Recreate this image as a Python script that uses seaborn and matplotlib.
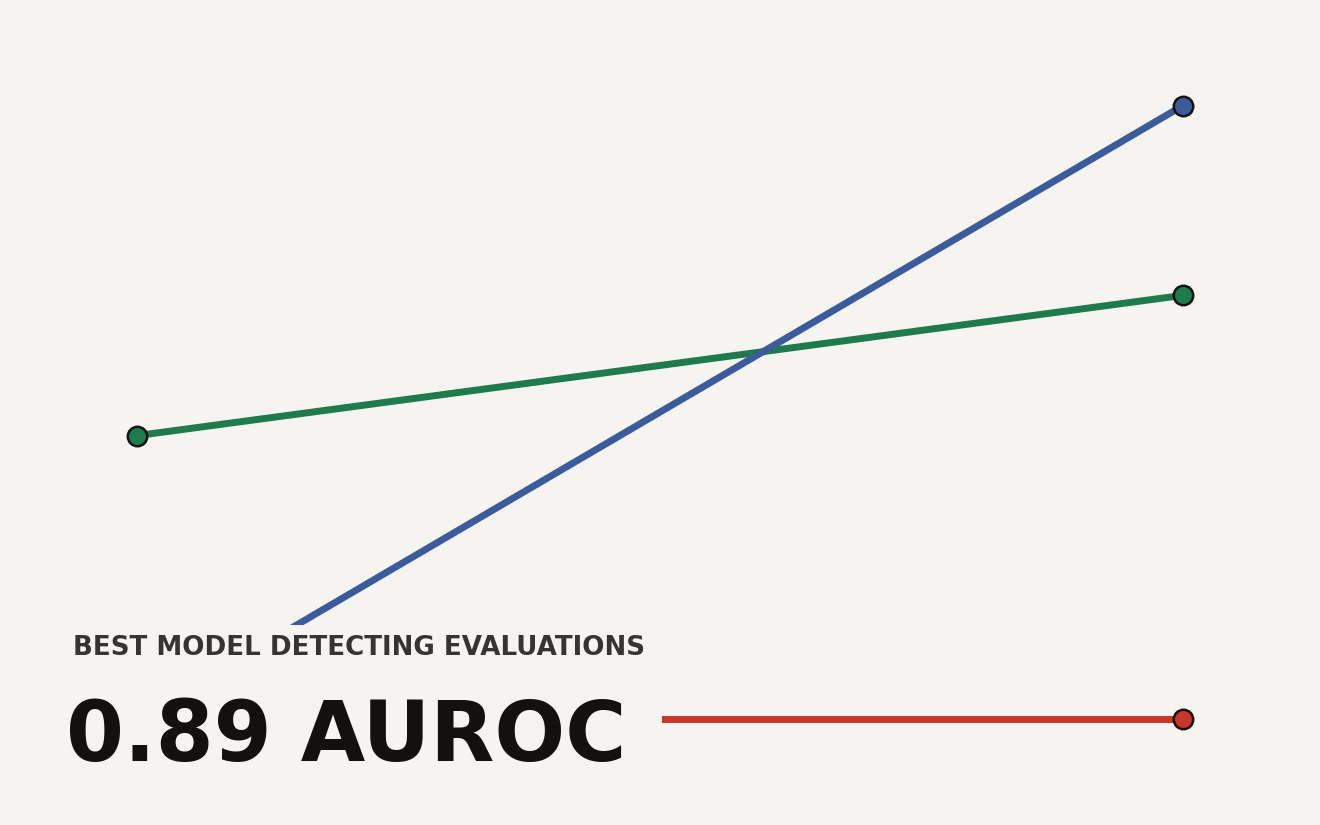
import matplotlib
matplotlib.use("Agg")
import matplotlib.pyplot as plt
import seaborn as sns
import pandas as pd
from matplotlib.patches import Rectangle

# Data
stages = [0, 1]
blue_vals = [12.9, 87.2]
green_vals = [47.2, 64.2]
red_vals = [12.8, 12.8]
series_names = ["blue", "green", "red"]
series_colors = ["#3b5b9a", "#1f7a4d", "#c8372a"]

subtitle = "BEST MODEL DETECTING EVALUATIONS"
headline = "0.89 AUROC"

BG = "#f5f4f0"

sns.set_theme(style="white")
plt.rcParams["font.family"] = ["DejaVu Sans"]

rows = []
for name, vals in zip(series_names, [blue_vals, green_vals, red_vals]):
    for s, v in zip(stages, vals):
        rows.append({"stage": s, "value": v, "series": name})
df = pd.DataFrame(rows)

fig = plt.figure(figsize=(13.2, 8.25), dpi=100)
fig.patch.set_facecolor(BG)
ax = fig.add_axes([0, 0, 1, 1])
ax.set_facecolor(BG)

order_z = {"green": 2, "blue": 3, "red": 2}
for name, color in zip(series_names, series_colors):
    sub = df[df["series"] == name]
    sns.lineplot(data=sub, x="stage", y="value", color=color, linewidth=5.0,
                 marker="o", markersize=14, markerfacecolor=color,
                 markeredgecolor="#151412", markeredgewidth=1.8,
                 ax=ax, zorder=order_z[name], legend=False)

ax.set_xlim(-0.131, 1.131)
ax.set_ylim(0, 100)
ax.set_axis_off()

# Cover box for the annotation
ax.add_patch(Rectangle((0, 0), 662 / 1320, 0.2424, transform=ax.transAxes,
                       facecolor=BG, edgecolor="none", zorder=5))

fig.text(73/1320, 1 - 655/825, subtitle, fontsize=18.8, fontweight="bold",
         color="#363430", ha="left", va="baseline", zorder=6)
fig.text(66/1320, 1 - 761/825, headline, fontsize=60, fontweight="bold",
         color="#121110", ha="left", va="baseline", zorder=6)

fig.savefig("out.png", dpi=100, facecolor=BG)
